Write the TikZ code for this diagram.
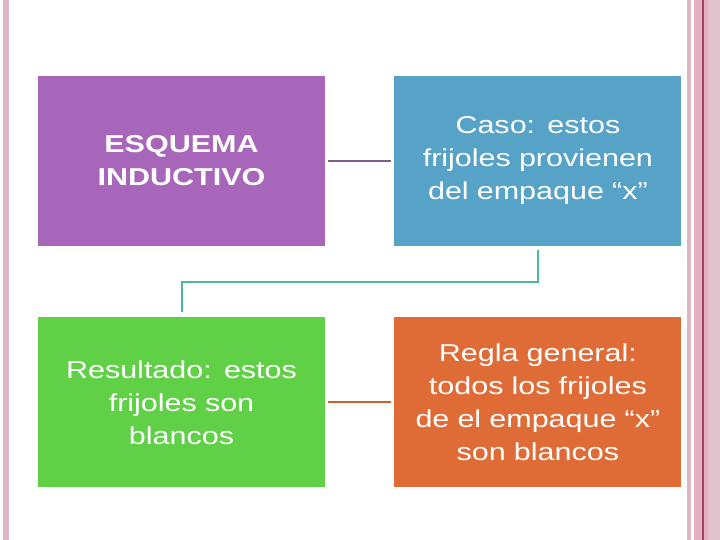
\documentclass[tikz,border=0pt]{standalone}
\usepackage{fontspec}
\newfontfamily\slidefont[FakeStretch=1.25]{Liberation Sans}
\usetikzlibrary{positioning}
\definecolor{esqpurple}{HTML}{A866BA}
\definecolor{casoblue}{HTML}{57A2C7}
\definecolor{resgreen}{HTML}{60D047}
\definecolor{reglaorange}{HTML}{DF6C36}
\definecolor{linkpurple}{HTML}{7E5B8C}
\definecolor{linkorange}{HTML}{C9622B}
\definecolor{flowteal}{HTML}{4DB896}
\definecolor{borderpink}{HTML}{DDB7C3}
\definecolor{borderrose}{HTML}{E3B1C1}
\definecolor{borderdark}{HTML}{A3445F}
\newcommand{\cardfont}{\slidefont\fontsize{24.4bp}{33bp}\selectfont}

\begin{document}
\begin{tikzpicture}[
  x=1bp, y=1bp,
  card/.style={minimum width=287bp, minimum height=170bp, inner sep=0pt,
    text width=280bp, align=center, text=white, font=\cardfont},
  link/.style={line width=2bp, shorten >=3bp, shorten <=3bp},
]
\useasboundingbox (0,0) rectangle (720,540);

% ═══════════════════════════════════════════
% PAGE BORDERS
% ═══════════════════════════════════════════
\fill[borderpink] (3,0) rectangle (9,540);
\fill[borderpink] (687,0) rectangle (691,540);
\fill[borderrose] (694,0) rectangle (708,540);
\fill[borderdark] (702,0) rectangle (703.5,540);
\fill[borderpink!85] (708,0) rectangle (720,540);

% ═══════════════════════════════════════════
% CARDS
% ═══════════════════════════════════════════
\node[card, fill=esqpurple, font=\cardfont\bfseries] (esquema) at (181.5, 379) {
  ESQUEMA\\INDUCTIVO
};
\node[card, fill=casoblue, right=69bp of esquema] (caso) {
  Caso: estos\\frijoles provienen\\del empaque “x”
};
\node[card, fill=resgreen, below=71bp of esquema] (resultado) {
  Resultado: estos\\frijoles son\\blancos
};
\node[card, fill=reglaorange, right=69bp of resultado] (regla) {
  Regla general:\\todos los frijoles\\de el empaque “x”\\son blancos
};

% ═══════════════════════════════════════════
% CONNECTORS
% ═══════════════════════════════════════════
\draw[link, linkpurple] (esquema) -- (caso);
\draw[link, linkorange] (resultado) -- (regla);

% Elbow from case to result
\draw[flowteal, line width=2bp, shorten <=4bp, shorten >=5bp]
  (caso.south) -- ++(0,-36) -| (resultado.north);

\end{tikzpicture}
\end{document}
